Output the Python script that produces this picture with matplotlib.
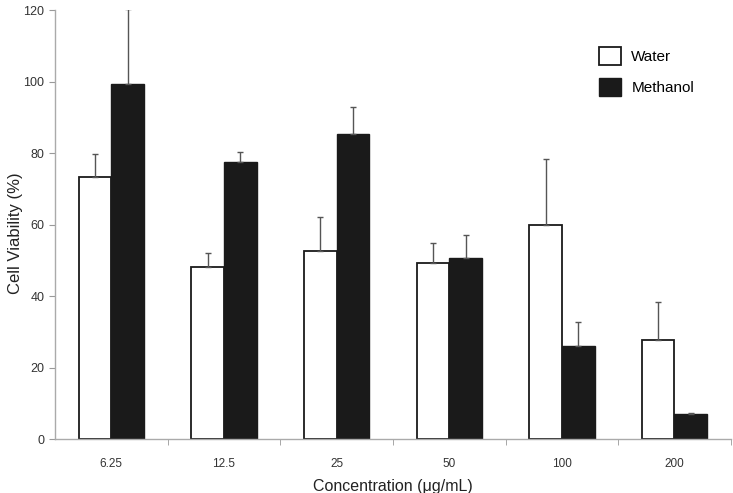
import numpy as np
import matplotlib.pyplot as plt
from matplotlib.patches import Patch

# data
conc = ["6.25", "12.5", "25", "50", "100", "200"]
water = [73.2, 48.0, 52.6, 49.3, 60.0, 27.6]
water_err = [6.6, 4.0, 9.6, 5.5, 18.3, 10.8]
methanol = [99.4, 77.6, 85.4, 50.6, 26.0, 7.1]
methanol_err = [20.8, 2.8, 7.5, 6.4, 6.6, 0.3]

plt.rcParams['font.family'] = ['Liberation Sans', 'DejaVu Sans']

fig = plt.figure(figsize=(7.33, 4.93), dpi=100)
ax = fig.add_axes([0.075, 0.1095, 0.922, 0.8702])

x = np.arange(len(conc))
w = 0.29
ekw = dict(ecolor='#555555', elinewidth=1.0, capsize=2.5, capthick=1.0)

ax.bar(x - w/2, water, w, color='white', edgecolor='#1a1a1a', linewidth=1.3,
       yerr=[np.zeros(len(water)), water_err], error_kw=ekw, label='Water')
ax.bar(x + w/2, methanol, w, color='#1a1a1a', edgecolor='#1a1a1a', linewidth=1.0,
       yerr=[np.zeros(len(methanol)), methanol_err], error_kw=ekw, label='Methanol')

ax.set_xlim(-0.5, len(conc) - 0.5)
ax.set_ylim(0, 120)
ax.set_yticks(np.arange(0, 121, 20))
ax.set_xticks(x)
ax.set_xticklabels(conc, fontsize=8.5, color='#333333')
ax.set_xticks(np.arange(len(conc)) + 0.5, minor=True)
ax.tick_params(axis='x', which='major', length=0, pad=14)
ax.tick_params(axis='x', which='minor', length=4, color='#999999', direction='out')
ax.tick_params(axis='y', length=4, color='#999999', labelsize=9, labelcolor='#333333')

for s in ['top', 'right']:
    ax.spines[s].set_visible(False)
for s in ['left', 'bottom']:
    ax.spines[s].set_color('#aaaaaa')
    ax.spines[s].set_linewidth(1.0)

ax.set_ylabel('Cell Viability (%)', fontsize=12, color='#222222')
ax.yaxis.set_label_coords(-0.047, 0.48)
ax.set_xlabel('Concentration (μg/mL)', fontsize=11.5, color='#222222', labelpad=6)

handles = [Patch(facecolor='white', edgecolor='#1a1a1a', linewidth=1.3),
           Patch(facecolor='#1a1a1a', edgecolor='#1a1a1a')]
ax.legend(handles, ['Water', 'Methanol'], loc='upper left', bbox_to_anchor=(0.785, 0.945),
          frameon=False, fontsize=11, handlelength=1.4, handleheight=1.4,
          handletextpad=0.7, labelspacing=0.85)

fig.savefig('out.png', dpi=100)
